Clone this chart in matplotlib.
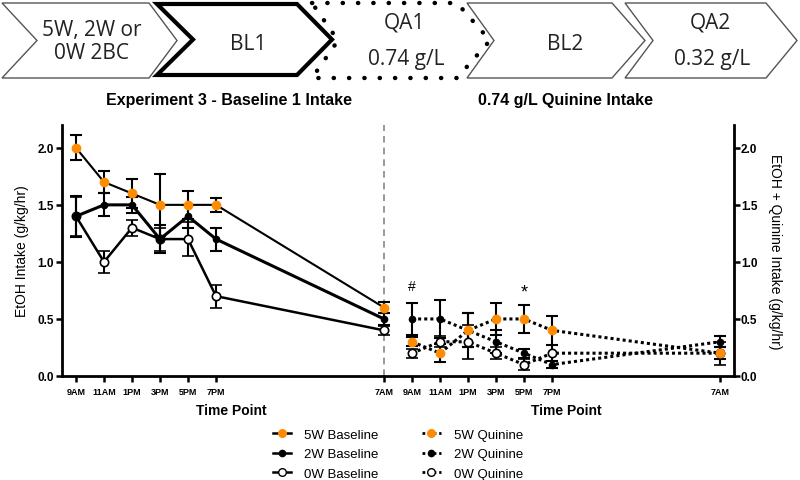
import matplotlib
matplotlib.use("Agg")
import matplotlib.pyplot as plt
import matplotlib.patches as patches
from matplotlib.lines import Line2D
from matplotlib.transforms import blended_transform_factory

plt.rcParams['font.family'] = ['Liberation Sans', 'DejaVu Sans']

# time points (hours from midnight of day 1)
bl_hours = [9, 11, 13, 15, 17, 19, 31]
q_hours = [33, 35, 37, 39, 41, 43, 55]
tick_hours = [9, 11, 13, 15, 17, 19, 31, 33, 35, 37, 39, 41, 43, 55]
tick_labels = ["9AM", "11AM", "1PM", "3PM", "5PM", "7PM", "7AM",
               "9AM", "11AM", "1PM", "3PM", "5PM", "7PM", "7AM"]

# baseline 1 intake
bl_5w = [2.0, 1.7, 1.6, 1.5, 1.5, 1.5, 0.6]
bl_5w_err = [0.11, 0.1, 0.13, 0.27, 0.12, 0.06, 0.05]
bl_2w = [1.4, 1.5, 1.5, 1.2, 1.4, 1.2, 0.5]
bl_2w_err = [0.18, 0.1, 0.07, 0.12, 0.1, 0.1, 0.05]
bl_0w = [1.4, 1.0, 1.3, 1.2, 1.2, 0.7, 0.4]
bl_0w_err = [0.17, 0.1, 0.07, 0.1, 0.15, 0.1, 0.04]

# 0.74 g/L quinine intake
q_5w = [0.3, 0.2, 0.4, 0.5, 0.5, 0.4, 0.2]
q_5w_err = [0.04, 0.08, 0.15, 0.14, 0.12, 0.13, 0.05]
q_2w = [0.5, 0.5, 0.4, 0.3, 0.2, 0.1, 0.3]
q_2w_err = [0.14, 0.17, 0.15, 0.1, 0.04, 0.03, 0.05]
q_0w = [0.2, 0.3, 0.3, 0.2, 0.1, 0.2, 0.2]
q_0w_err = [0.04, 0.05, 0.15, 0.05, 0.05, 0.07, 0.1]

ORANGE = "#ff8c00"

fig = plt.figure(figsize=(8.0, 4.81), dpi=100)

# ---- header chevrons (pixel coordinates, y down) ----
hdr = fig.add_axes([0, 0, 1, 1])
hdr.set_xlim(0, 800)
hdr.set_ylim(481, 0)
hdr.axis('off')


def chevron(x0, x1, notch, tip, y0=4, y1=79, **kw):
    ym = (y0 + y1) / 2
    pts = [(x0, y0), (x1 - tip, y0), (x1, ym), (x1 - tip, y1), (x0, y1), (x0 + notch, ym)]
    hdr.add_patch(patches.Polygon(pts, closed=True, facecolor='white', **kw))


chevron(2, 177, 35, 28, edgecolor='#555555', linewidth=1)
chevron(467, 645, 27, 33, edgecolor='#555555', linewidth=1)
chevron(625, 797, 28, 31, edgecolor='#555555', linewidth=1)
chevron(312, 490, 26, 33, edgecolor='black', linewidth=3.2,
        linestyle=(0, (0.05, 3.4)), capstyle='round')
chevron(157, 332, 36, 35, y0=5, y1=76, edgecolor='black', linewidth=3)

hfont = dict(family=['Open Sans', 'DejaVu Sans'], fontsize=15, ha='center', va='center', color='#222222')
hdr.text(92, 42, "5W, 2W or\n0W 2BC", linespacing=1.1, **hfont)
hdr.text(248, 44, "BL1", **hfont)
hdr.text(404, 23, "QA1", **hfont)
hdr.text(406, 60, "0.74 g/L", **hfont)
hdr.text(565, 44, "BL2", **hfont)
hdr.text(710, 23, "QA2", **hfont)
hdr.text(712, 60, "0.32 g/L", **hfont)

hdr.text(229, 101, "Experiment 3 - Baseline 1 Intake", fontsize=11.5, fontweight='bold',
         ha='center', va='center')
hdr.text(565, 101, "0.74 g/L Quinine Intake", fontsize=11.5, fontweight='bold',
         ha='center', va='center')

# ---- main plot ----
ax = fig.add_axes([62 / 800, 104 / 481, 672 / 800, 251 / 481])
ax.set_xlim(8, 56)
ax.set_ylim(0, 2.2)

ax.axvline(31, color='#888888', linestyle=(0, (4, 3)), linewidth=1.2, zorder=1)

ekw = dict(ecolor='black', elinewidth=1.5, capsize=4, capthick=1.5, color='black', zorder=3)

ax.errorbar(bl_hours, bl_0w, yerr=bl_0w_err, linestyle='-', linewidth=1.8,
            marker='o', markersize=6, markerfacecolor='white', markeredgecolor='black',
            markeredgewidth=1.2, **ekw)
ax.errorbar(bl_hours, bl_2w, yerr=bl_2w_err, linestyle='-', linewidth=2.2,
            marker='o', markersize=4.5, markerfacecolor='black', markeredgecolor='black', **ekw)
ax.errorbar(bl_hours, bl_5w, yerr=bl_5w_err, linestyle='-', linewidth=1.5,
            marker='o', markersize=6, markerfacecolor=ORANGE, markeredgecolor=ORANGE, **ekw)

dots = (0, (1, 1))
ax.errorbar(q_hours, q_0w, yerr=q_0w_err, linestyle=dots, linewidth=2.2,
            marker='o', markersize=6, markerfacecolor='white', markeredgecolor='black',
            markeredgewidth=1.2, **ekw)
ax.errorbar(q_hours, q_2w, yerr=q_2w_err, linestyle=dots, linewidth=2.2,
            marker='o', markersize=4.5, markerfacecolor='black', markeredgecolor='black', **ekw)
ax.errorbar(q_hours, q_5w, yerr=q_5w_err, linestyle=dots, linewidth=2.2,
            marker='o', markersize=6, markerfacecolor=ORANGE, markeredgecolor=ORANGE, **ekw)

ax.text(33, 0.79, "#", ha='center', va='center', fontsize=10)
ax.text(41, 0.74, "*", ha='center', va='center', fontsize=13)

ax.set_xticks(tick_hours)
ax.set_xticklabels(tick_labels, fontsize=6.5, fontweight='bold')
ax.set_yticks([0.0, 0.5, 1.0, 1.5, 2.0])
ax.set_yticklabels(["0.0", "0.5", "1.0", "1.5", "2.0"], fontsize=8.5, fontweight='bold')
ax.tick_params(axis='both', direction='out', length=4, width=1.8, pad=2)
ax.tick_params(axis='x', pad=4)
for s in ['top', 'right']:
    ax.spines[s].set_visible(False)
for s in ['left', 'bottom']:
    ax.spines[s].set_linewidth(2)
ax.set_ylabel("EtOH Intake (g/kg/hr)", fontsize=10, labelpad=6)

ax2 = ax.twinx()
ax2.set_ylim(0, 2.2)
ax2.set_yticks([0.0, 0.5, 1.0, 1.5, 2.0])
ax2.set_yticklabels(["0.0", "0.5", "1.0", "1.5", "2.0"], fontsize=8.5, fontweight='bold')
ax2.tick_params(axis='y', direction='out', length=4, width=1.8, pad=1)
for s in ['top', 'left', 'bottom']:
    ax2.spines[s].set_visible(False)
ax2.spines['right'].set_linewidth(2)
ax2.set_ylabel("EtOH + Quinine Intake (g/kg/hr)", fontsize=10, rotation=-90, labelpad=18)

tr = blended_transform_factory(ax.transData, fig.transFigure)
fig.text(20.1, 1 - 411 / 481, "Time Point", transform=tr, fontsize=10, fontweight='bold',
         ha='center', va='center')
fig.text(44.0, 1 - 411 / 481, "Time Point", transform=tr, fontsize=10, fontweight='bold',
         ha='center', va='center')

# ---- legend ----
handles = [
    Line2D([], [], color='black', linestyle='-', linewidth=1.8, marker='o', markersize=5.5,
           markerfacecolor=ORANGE, markeredgecolor=ORANGE),
    Line2D([], [], color='black', linestyle='-', linewidth=1.8, marker='o', markersize=4.5,
           markerfacecolor='black'),
    Line2D([], [], color='black', linestyle='-', linewidth=1.8, marker='o', markersize=5.5,
           markerfacecolor='white', markeredgecolor='black'),
    Line2D([], [], color='black', linestyle=dots, linewidth=2, marker='o', markersize=5.5,
           markerfacecolor=ORANGE, markeredgecolor=ORANGE),
    Line2D([], [], color='black', linestyle=dots, linewidth=2, marker='o', markersize=4.5,
           markerfacecolor='black'),
    Line2D([], [], color='black', linestyle=dots, linewidth=2, marker='o', markersize=5.5,
           markerfacecolor='white', markeredgecolor='black'),
]
labels = ["5W Baseline", "2W Baseline", "0W Baseline",
          "5W Quinine", "2W Quinine", "0W Quinine"]
fig.legend(handles, labels, ncol=2, loc='upper left', bbox_to_anchor=(266 / 800, 1 - 423 / 481),
           frameon=False, fontsize=9.5, handlelength=1.4, handletextpad=1.0,
           labelspacing=0.55, columnspacing=3.3, borderpad=0)

fig.savefig("out.png", dpi=100)
